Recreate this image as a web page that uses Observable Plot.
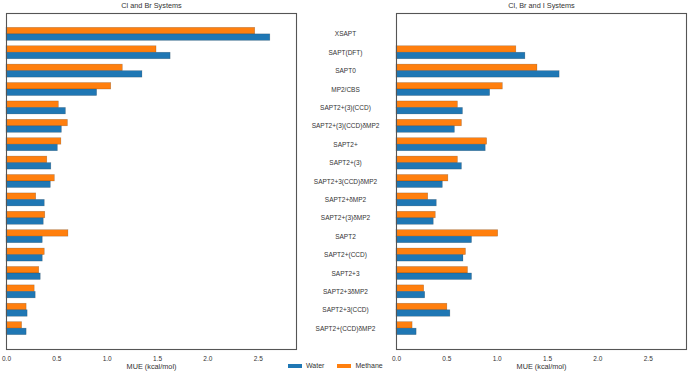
<!DOCTYPE html>
<html>
<head>
<meta charset="utf-8">
<script src="https://cdn.jsdelivr.net/npm/d3@7"></script>
<script src="https://cdn.jsdelivr.net/npm/@observablehq/plot@0.6"></script>
<style>
  html, body { margin: 0; padding: 0; background: #fff; }
  #wrap { position: relative; width: 688px; height: 373px; font-family: "Liberation Sans", Arial, sans-serif; }
  #legend { position: absolute; left: 288px; top: 362px; height: 8px; display: flex; align-items: center; font-size: 7px; color: #333; line-height: 8px; }
  #legend .sw { display: inline-block; width: 14px; height: 4px; margin-right: 4px; }
  #legend .item { display: flex; align-items: center; margin-right: 13px; }
</style>
</head>
<body>
<div id="wrap"></div>
<script>
const categories = ["XSAPT","SAPT(DFT)","SAPT0","MP2/CBS","SAPT2+(3)(CCD)","SAPT2+(3)(CCD)δMP2","SAPT2+","SAPT2+(3)","SAPT2+3(CCD)δMP2","SAPT2+δMP2","SAPT2+(3)δMP2","SAPT2","SAPT2+(CCD)","SAPT2+3","SAPT2+3δMP2","SAPT2+3(CCD)","SAPT2+(CCD)δMP2"];
const panels = ["Cl and Br Systems", "Cl, Br and I Systems"];
const series = ["Water", "Methane"];
const seriesColors = ["#1f77b4", "#ff7f0e"];
const clBrWater   = [2.62, 1.63, 1.35, 0.90, 0.59, 0.55, 0.51, 0.445, 0.44, 0.38, 0.37, 0.36, 0.36, 0.34, 0.29, 0.21, 0.20];
const clBrMethane = [2.47, 1.49, 1.155, 1.04, 0.52, 0.61, 0.545, 0.405, 0.48, 0.295, 0.385, 0.615, 0.38, 0.325, 0.28, 0.20, 0.155];
const clBrIWater   = [null, 1.28, 1.62, 0.93, 0.66, 0.58, 0.886, 0.65, 0.46, 0.40, 0.37, 0.75, 0.665, 0.75, 0.285, 0.535, 0.20];
const clBrIMethane = [null, 1.19, 1.40, 1.056, 0.61, 0.65, 0.90, 0.61, 0.515, 0.315, 0.39, 1.01, 0.69, 0.71, 0.275, 0.505, 0.16];
const xTicks = [0, 0.5, 1, 1.5, 2, 2.5];
const xLabel = "MUE (kcal/mol)";

function rows(panel, values, s) {
  return categories.map((c, i) => ({panel, category: c, series: s, value: values[i]})).filter(d => d.value != null);
}
const waterRows = [...rows(panels[0], clBrWater, "Water"), ...rows(panels[1], clBrIWater, "Water")];
const methaneRows = [...rows(panels[0], clBrMethane, "Methane"), ...rows(panels[1], clBrIMethane, "Methane")];

const chart = Plot.plot({
  width: 688,
  height: 373,
  marginTop: 13,
  marginBottom: 24,
  marginLeft: 6,
  marginRight: 2,
  style: {fontFamily: "'Liberation Sans', Arial, sans-serif", fontSize: "7px", color: "#333", background: "#fff"},
  fx: {domain: panels, paddingInner: 0.2564, paddingOuter: 0, round: false, label: null},
  x: {domain: [0, 2.88], label: null},
  y: {domain: categories, axis: null, paddingInner: 0.293, paddingOuter: 0.78, round: false},
  color: {domain: series, range: seriesColors},
  marks: [
    Plot.axisFx({anchor: "top", tickSize: 0, tickPadding: 6, label: null, fontSize: 7.3}),
    Plot.axisX({anchor: "bottom", ticks: xTicks, tickFormat: ".1f", tickSize: 0, tickPadding: 7, label: null, fontSize: 6.5}),
    Plot.barX(methaneRows, {fx: "panel", y: "category", x: "value", fill: "series", stroke: "#000", strokeOpacity: 0.25, strokeWidth: 0.6, insetBottom: 6.5}),
    Plot.barX(waterRows, {fx: "panel", y: "category", x: "value", fill: "series", stroke: "#000", strokeOpacity: 0.25, strokeWidth: 0.6, insetTop: 6.5}),
    Plot.frame({stroke: "#555", strokeWidth: 1.1}),
    Plot.text(panels, {fx: d => d, frameAnchor: "bottom", text: () => xLabel, dy: 14, lineAnchor: "top", fontSize: 7.3, fill: "#333"}),
    Plot.text(categories, {fx: () => panels[1], x: () => 0, y: d => d, dx: -51, textAnchor: "middle", fill: "#333", fontSize: 6.5})
  ]
});

const wrap = document.getElementById("wrap");
wrap.appendChild(chart);
const legend = document.createElement("div");
legend.id = "legend";
series.forEach((s, i) => {
  const item = document.createElement("div");
  item.className = "item";
  const sw = document.createElement("span");
  sw.className = "sw";
  sw.style.background = seriesColors[i];
  const t = document.createElement("span");
  t.textContent = s;
  item.appendChild(sw);
  item.appendChild(t);
  legend.appendChild(item);
});
wrap.appendChild(legend);
</script>
</body>
</html>
